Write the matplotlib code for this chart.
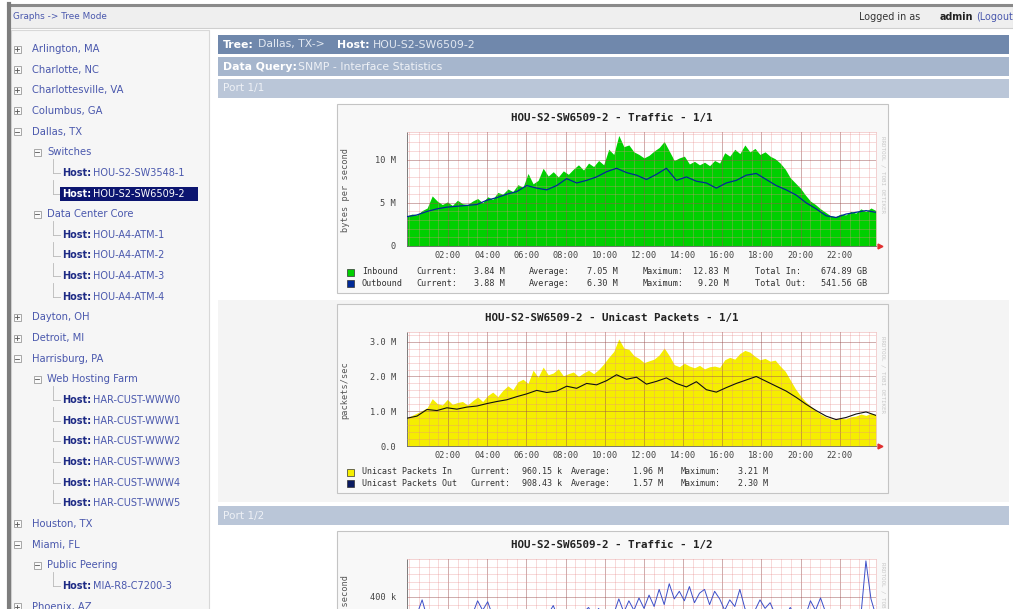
import matplotlib.pyplot as plt
import numpy as np
from matplotlib.patches import Rectangle

# ---------------- data ----------------
tree_labels = ['Arlington, MA', 'Charlotte, NC', 'Charlottesville, VA', 'Columbus, GA',
               'Dallas, TX', 'Switches', 'HOU-S2-SW3548-1', 'HOU-S2-SW6509-2',
               'Data Center Core', 'HOU-A4-ATM-1', 'HOU-A4-ATM-2', 'HOU-A4-ATM-3',
               'HOU-A4-ATM-4', 'Dayton, OH', 'Detroit, MI', 'Harrisburg, PA',
               'Web Hosting Farm', 'HAR-CUST-WWW0', 'HAR-CUST-WWW1', 'HAR-CUST-WWW2',
               'HAR-CUST-WWW3', 'HAR-CUST-WWW4', 'HAR-CUST-WWW5', 'Houston, TX',
               'Miami, FL', 'Public Peering', 'MIA-R8-C7200-3', 'Phoenix, AZ']
tree_levels = [0, 0, 0, 0, 0, 1, 2, 2, 1, 2, 2, 2, 2, 0, 0, 0, 1, 2, 2, 2, 2, 2, 2, 0, 0, 1, 2, 0]
tree_open = ['Dallas, TX', 'Switches', 'Data Center Core', 'Harrisburg, PA',
             'Web Hosting Farm', 'Miami, FL', 'Public Peering']
selected_host = 'HOU-S2-SW6509-2'

hour_ticks = [2, 4, 6, 8, 10, 12, 14, 16, 18, 20, 22]
hour_labels = ['02:00', '04:00', '06:00', '08:00', '10:00', '12:00',
               '14:00', '16:00', '18:00', '20:00', '22:00']

# graph 1: traffic 1/1 (MBytes/s)
inbound_m = [3.5, 3.7, 3.6, 4.1, 4.4, 5.8, 5.2, 4.8, 5.1, 4.7, 5.3, 4.9, 4.8, 5.2, 5.5, 5.0,
             5.7, 5.4, 6.2, 6.0, 6.6, 6.3, 7.1, 6.8, 8.4, 7.2, 7.6, 9.0, 8.1, 8.6, 8.0, 8.7,
             8.3, 8.9, 9.4, 8.8, 9.6, 9.2, 9.9, 9.4, 11.2, 10.6, 12.8, 11.5, 11.7, 10.9, 10.6, 10.2,
             10.5, 11.0, 11.4, 12.1, 11.0, 9.9, 10.2, 10.4, 9.5, 9.8, 9.4, 9.7, 9.3, 9.9, 9.6, 10.8,
             10.4, 11.2, 10.7, 11.7, 10.9, 11.3, 10.6, 10.9, 10.4, 10.1, 9.6, 8.9, 7.9, 7.3, 6.7, 5.9,
             5.2, 4.8, 4.3, 3.9, 3.5, 3.4, 3.7, 3.6, 4.0, 3.8, 4.3, 4.0, 4.4, 4.1]
outbound_m = [3.4, 3.6, 4.0, 4.3, 4.5, 4.6, 4.7, 4.8, 5.3, 5.6, 6.0, 6.3, 7.0, 6.7, 6.5, 7.0,
              7.8, 7.3, 7.6, 8.0, 8.6, 9.0, 8.5, 8.2, 7.7, 8.3, 9.0, 7.6, 8.0, 7.5, 7.3, 6.7,
              7.3, 7.6, 8.2, 8.4, 7.7, 7.0, 6.5, 5.9, 5.0, 4.3, 3.5, 3.3, 3.7, 3.9, 4.1, 3.9]

# graph 2: unicast packets 1/1 (M pkts/s)
ucast_in_m = [0.82, 0.88, 0.95, 1.02, 1.10, 1.36, 1.22, 1.18, 1.34, 1.20, 1.25, 1.28, 1.18, 1.30,
              1.41, 1.28, 1.45, 1.55, 1.42, 1.60, 1.73, 1.62, 1.85, 1.92, 1.80, 2.18, 1.98, 2.27,
              2.05, 2.10, 2.22, 2.02, 2.08, 2.13, 2.00, 2.10, 2.18, 2.08, 2.20, 2.36, 2.55, 2.72,
              3.08, 2.82, 2.78, 2.60, 2.52, 2.40, 2.45, 2.50, 2.62, 2.82, 2.60, 2.34, 2.28, 2.38,
              2.30, 2.25, 2.32, 2.22, 2.28, 2.30, 2.26, 2.48, 2.55, 2.50, 2.66, 2.75, 2.70, 2.58,
              2.48, 2.52, 2.44, 2.47, 2.30, 2.15, 1.90, 1.65, 1.45, 1.28, 1.15, 1.02, 0.92, 0.84,
              0.78, 0.76, 0.80, 0.78, 0.84, 0.86, 0.92, 0.88, 0.94, 0.90]
ucast_out_m = [0.80, 0.86, 1.05, 1.02, 1.10, 1.06, 1.12, 1.15, 1.22, 1.28, 1.33, 1.42, 1.50, 1.60,
               1.54, 1.58, 1.72, 1.66, 1.80, 1.76, 1.88, 2.05, 1.92, 1.98, 1.78, 1.86, 1.96, 1.80,
               1.70, 1.85, 1.62, 1.55, 1.68, 1.80, 1.90, 2.00, 1.86, 1.72, 1.58, 1.40, 1.20, 1.02,
               0.86, 0.76, 0.82, 0.92, 0.98, 0.88]

# graph 3: traffic 1/2 (kBytes/s), only the top of it is on screen
port2_in_k = [280, 300, 310, 385, 290, 270, 300, 260, 250, 280, 300, 270, 290, 310, 380, 330,
              375, 300, 280, 260, 250, 270, 300, 280, 260, 290, 270, 300, 310, 355, 290, 280,
              300, 270, 300, 320, 345, 300, 340, 290, 300, 310, 390, 320, 380, 330, 395, 340,
              410, 350, 440, 360, 470, 390, 430, 380, 455, 370, 420, 440, 360, 430, 390, 330,
              385, 350, 440, 340, 300, 330, 385, 340, 370, 310, 290, 300, 345, 300, 280, 300,
              380, 330, 395, 320, 290, 280, 300, 270, 260, 280, 300, 590, 390, 300]

legend1 = [['Inbound', 'Current:', '3.84 M', 'Average:', '7.05 M', 'Maximum:', '12.83 M', 'Total In:', '674.89 GB'],
           ['Outbound', 'Current:', '3.88 M', 'Average:', '6.30 M', 'Maximum:', '9.20 M', 'Total Out:', '541.56 GB']]
legend2 = [['Unicast Packets In', 'Current:', '960.15 k', 'Average:', '1.96 M', 'Maximum:', '3.21 M'],
           ['Unicast Packets Out', 'Current:', '908.43 k', 'Average:', '1.57 M', 'Maximum:', '2.30 M']]

# ---------------- page ----------------
W, H = 1013, 609
fig = plt.figure(figsize=(W / 100, H / 100), dpi=100)
page = fig.add_axes([0, 0, 1, 1])
page.set_xlim(0, W)
page.set_ylim(H, 0)
page.axis('off')

UI = 'DejaVu Sans'
MONO = 'DejaVu Sans Mono'
LINK = '#4a58ad'


def box(x0, y0, x1, y1, fc, ec='none', lw=0.8, z=1):
    page.add_patch(Rectangle((x0, y0), x1 - x0, y1 - y0, facecolor=fc, edgecolor=ec, lw=lw, zorder=z))


def px_axes(x0, y0, x1, y1):
    return fig.add_axes([x0 / W, 1 - y1 / H, (x1 - x0) / W, (y1 - y0) / H])


# frame + top bar
box(0, 0, W, H, 'white', z=0)
box(8, 5, W, 28, '#efefef', ec='#cfcfcf')
page.plot([8, W], [4.5, 4.5], color='#8a8a8a', lw=2.2)
page.plot([9, 9], [4, H], color='#7d7d7d', lw=3)
page.text(13, 16.5, 'Graphs -> Tree Mode', fontsize=6.4, family=UI, color=LINK, va='center')
page.text(859, 16.5, 'Logged in as', fontsize=6.9, family=UI, color='#333333', va='center')
page.text(940, 16.5, 'admin', fontsize=6.9, family=UI, color='#222222', va='center', weight='bold')
page.text(976, 16.5, '(Logout', fontsize=6.9, family=UI, color=LINK, va='center')

# left tree panel
box(11, 30, 209, H + 5, '#f6f6f6', ec='#d8d8d8')
row_y = [49 + 20.65 * i for i in range(len(tree_labels))]
icon_x = {0: 17, 1: 37}
text_x = {0: 32, 1: 47}
for i, (lab, lev) in enumerate(zip(tree_labels, tree_levels)):
    y = row_y[i]
    if lev < 2:
        cx = icon_x[lev]
        box(cx - 3.5, y - 3.5, cx + 3.5, y + 3.5, '#fafafa', ec='#9a9a9a', lw=0.6, z=2)
        page.plot([cx - 2, cx + 2], [y, y], color='#555555', lw=0.6, zorder=3)
        if lab not in tree_open:
            page.plot([cx, cx], [y - 2, y + 2], color='#555555', lw=0.6, zorder=3)
        page.text(text_x[lev], y, lab, fontsize=7.2, family=UI, color=LINK, va='center')
    else:
        # connector from the parent folder
        page.plot([53, 60], [y, y], color='#b8b8b8', lw=0.6)
        page.plot([53, 53], [y - 20.65 + 7, y], color='#b8b8b8', lw=0.6)
        if lab == selected_host:
            box(60, y - 7, 198, y + 7, '#0c1570', z=2)
            page.text(62, y, 'Host:', fontsize=7.0, family=UI, color='white', weight='bold', va='center', zorder=3)
            page.text(93, y, lab, fontsize=7.0, family=UI, color='white', va='center', zorder=3)
        else:
            page.text(62, y, 'Host:', fontsize=7.0, family=UI, color='#1d2a85', weight='bold', va='center')
            page.text(93, y, lab, fontsize=7.0, family=UI, color=LINK, va='center')

# header bars
box(218, 35, 1009, 54, '#7088ac')
box(218, 57, 1009, 76, '#a6b6cd')
box(218, 79, 1009, 98, '#bac6d8')
page.text(223, 44.5, 'Tree:', fontsize=7.8, family=UI, color='white', weight='bold', va='center')
page.text(258, 44.5, 'Dallas, TX->', fontsize=7.8, family=UI, color='#e2e8f1', va='center')
page.text(337, 44.5, 'Host:', fontsize=7.8, family=UI, color='white', weight='bold', va='center')
page.text(373, 44.5, 'HOU-S2-SW6509-2', fontsize=7.8, family=UI, color='#e2e8f1', va='center')
page.text(223, 66.5, 'Data Query:', fontsize=7.8, family=UI, color='white', weight='bold', va='center')
page.text(298, 66.5, 'SNMP - Interface Statistics', fontsize=7.8, family=UI, color='#eef1f6', va='center')
page.text(223, 88.5, 'Port 1/1', fontsize=7.6, family=UI, color='#eef1f6', va='center')

# alternating row shade behind the second graph
box(218, 300, 1009, 502, '#f4f4f4')
box(218, 506, 1009, 525, '#bac6d8')
page.text(223, 515.5, 'Port 1/2', fontsize=7.6, family=UI, color='#eef1f6', va='center')


# ---------------- rrdtool style graphs ----------------
def rrd_graph(top, title, ylabel, ymax, yticks, yticklabels, yminor):
    box(337, top, 888, top + 189, '#f8f8f8', ec='#c4c4c4', lw=0.8, z=2)
    page.text(612, top + 14, title, fontsize=7.8, family=MONO, weight='bold',
              color='#222222', ha='center', va='center', zorder=3)
    page.text(345, top + 86, ylabel, fontsize=6.2, family=MONO, color='#555555',
              rotation=90, ha='center', va='center', zorder=3)
    page.text(883, top + 70, 'RRDTOOL / TOBI OETIKER', fontsize=4.2, family=MONO,
              color='#c8c8c8', rotation=270, ha='center', va='center', zorder=3)
    page.plot([880], [top + 142], marker='>', ms=3.5, color='#e03030', zorder=3)
    ax = px_axes(407, top + 28, 876, top + 142)
    ax.set_facecolor('white')
    ax.set_xlim(-0.1, 23.85)
    ax.set_ylim(0, ymax)
    ax.set_xticks(hour_ticks)
    ax.set_xticklabels(hour_labels)
    ax.set_xticks(np.arange(0, 24, 0.5), minor=True)
    ax.set_yticks(yticks)
    ax.set_yticklabels(yticklabels)
    ax.set_yticks(yminor, minor=True)
    ax.tick_params(which='both', length=0)
    ax.tick_params(axis='x', pad=3.5, labelsize=6.2, labelcolor='#444444')
    ax.tick_params(axis='y', pad=8, labelsize=6.2, labelcolor='#444444')
    for lb in ax.get_xticklabels() + ax.get_yticklabels():
        lb.set_family(MONO)
    ax.set_axisbelow(False)
    ax.grid(which='minor', color='#e88a8a', lw=0.5, alpha=0.45)
    ax.grid(which='major', color='#9a5050', lw=0.6, alpha=0.55)
    for side in ['top', 'right']:
        ax.spines[side].set_color('#f0c0c0')
        ax.spines[side].set_linewidth(0.5)
    ax.spines['left'].set_color('#666666')
    ax.spines['bottom'].set_color('#666666')
    ax.spines['left'].set_linewidth(0.6)
    ax.spines['bottom'].set_linewidth(0.6)
    return ax


def legend_rows(top, rows, colors, cols, ends, fs):
    for r, (row, col) in enumerate(zip(rows, colors)):
        y = top + 168 + 11.5 * r
        box(347, y - 3.5, 354, y + 3.5, col, ec='#333333', lw=0.5, z=3)
        for k, s in enumerate(row):
            if k % 2 == 0 and k > 0:
                page.text(ends[k], y, s, fontsize=fs, family=MONO, color='#333333',
                          ha='right', va='center', zorder=3)
            else:
                page.text(cols[k], y, s, fontsize=fs, family=MONO, color='#333333',
                          va='center', zorder=3)


# graph 1
ax1 = rrd_graph(104, 'HOU-S2-SW6509-2 - Traffic - 1/1', 'bytes per second', 13.2e6,
                [0, 5e6, 10e6], ['0', '5 M', '10 M'], np.arange(0, 13.2e6, 1e6))
t_in = np.linspace(-0.1, 23.85, len(inbound_m))
t_out = np.linspace(-0.1, 23.85, len(outbound_m))
ax1.fill_between(t_in, np.array(inbound_m) * 1e6, color='#00cf00', lw=0, zorder=1)
ax1.plot(t_out, np.array(outbound_m) * 1e6, color='#002a97', lw=0.9, zorder=3)
legend_rows(104, legend1, ['#00cf00', '#002a97'],
            {0: 362, 1: 416, 3: 529, 5: 643, 7: 755},
            {2: 505, 4: 618, 6: 729, 8: 867}, 6.1)

# graph 2
ax2 = rrd_graph(304, 'HOU-S2-SW6509-2 - Unicast Packets - 1/1', 'packets/sec', 3.28e6,
                [0, 1e6, 2e6, 3e6], ['0.0', '1.0 M', '2.0 M', '3.0 M'], np.arange(0, 3.28e6, 0.2e6))
t_uin = np.linspace(-0.1, 23.85, len(ucast_in_m))
t_uout = np.linspace(-0.1, 23.85, len(ucast_out_m))
ax2.fill_between(t_uin, np.array(ucast_in_m) * 1e6, color='#f5ee00', lw=0, zorder=1)
ax2.plot(t_uout, np.array(ucast_out_m) * 1e6, color='#111111', lw=0.8, zorder=3)
legend_rows(304, legend2, ['#f5ee00', '#0a1a60'],
            {0: 362, 1: 470, 3: 571, 5: 681},
            {2: 562, 4: 663, 6: 768}, 6.0)

# graph 3 (runs off the bottom of the page)
ax3 = rrd_graph(531, 'HOU-S2-SW6509-2 - Traffic - 1/2', 'bytes per second', 600e3,
                [0, 200e3, 400e3], ['', '', '400 k'], np.arange(0, 600e3, 40e3))
ax3.set_xticklabels([''] * len(hour_ticks))
t_p2 = np.linspace(-0.1, 23.85, len(port2_in_k))
ax3.plot(t_p2, np.array(port2_in_k) * 1e3, color='#3c4fc8', lw=0.7, zorder=3)

fig.savefig('out.png', dpi=100)
